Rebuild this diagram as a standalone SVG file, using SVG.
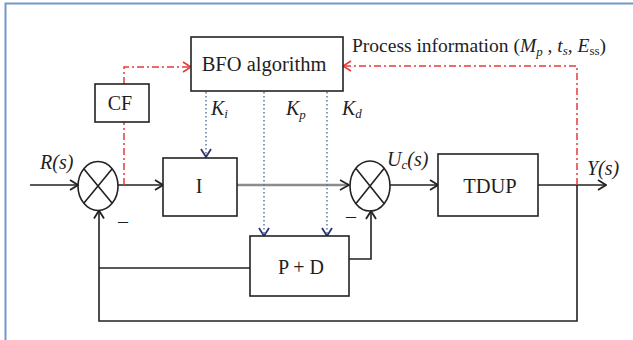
<svg xmlns="http://www.w3.org/2000/svg" width="633" height="340" viewBox="0 0 633 340">
<defs>
<style>
.frame{stroke:#7399cc;stroke-width:2;fill:none}
.box{fill:#fff;stroke:#222;stroke-width:1.6}
.ln{fill:none;stroke:#222;stroke-width:1.6}
.gray{fill:none;stroke:#8c8c8c;stroke-width:2.6}
.red{fill:none;stroke:#e8383a;stroke-width:1.5;stroke-dasharray:7 3 2 3}
.dot{fill:none;stroke:#5a6a9e;stroke-width:1.4;stroke-dasharray:1.5 2.5}
.t{font-family:"Liberation Serif","Times New Roman",serif;font-size:20px;fill:#1e1e1e}
.it{font-style:italic}
.sub{font-size:13px}
</style>
<marker id="ab" viewBox="0 0 10 12" refX="9" refY="6" markerWidth="10" markerHeight="12" markerUnits="userSpaceOnUse" orient="auto">
<path d="M1,1 L9,6 L1,11" fill="none" stroke="#222" stroke-width="1.8"/>
</marker>
<marker id="ar" viewBox="0 0 10 12" refX="9" refY="6" markerWidth="10" markerHeight="12" markerUnits="userSpaceOnUse" orient="auto">
<path d="M1,1 L9,6 L1,11" fill="none" stroke="#e8383a" stroke-width="1.6"/>
</marker>
<marker id="an" viewBox="0 0 10 12" refX="9" refY="6" markerWidth="10" markerHeight="12" markerUnits="userSpaceOnUse" orient="auto">
<path d="M1,1 L9,6 L1,11" fill="none" stroke="#2c3470" stroke-width="1.8"/>
</marker>
</defs>
<rect width="633" height="340" fill="#fff"/>
<g id="frame">
<path class="frame" d="M5.5,340 L5.5,3.5 L633,3.5"/>
</g>
<g id="connectors">
<path class="ln" d="M30,185 L78,185" marker-end="url(#ab)"/>
<path class="ln" d="M118,185 L163,185" marker-end="url(#ab)"/>
<path class="gray" d="M237,185 L349,185"/>
<path class="ln" d="M340,180 L349,185 L340,190"/>
<path class="ln" d="M390,185 L438,185" marker-end="url(#ab)"/>
<path class="ln" d="M538,185 L606,185" marker-end="url(#ab)"/>
<path class="ln" d="M577,185 L577,321 L99,321 L99,210.5" marker-end="url(#ab)"/>
<path class="ln" d="M250,268 L99,268"/>
<path class="ln" d="M349,259 L371,259 L371,211" marker-end="url(#ab)"/>
<path class="red" d="M124,185 L124,122"/>
<path class="red" d="M124,84 L124,67 L191,67" marker-end="url(#ar)"/>
<path class="red" d="M577,185 L577,66 L343,66" marker-end="url(#ar)"/>
<path class="dot" d="M206,92 L206,157" marker-end="url(#an)"/>
<path class="dot" d="M264,92 L264,236" marker-end="url(#an)"/>
<path class="dot" d="M327,92 L327,236" marker-end="url(#an)"/>
</g>
<g id="sum1">
<ellipse class="ln" cx="98" cy="186" rx="20" ry="24.5" fill="#fff"/>
<path class="ln" d="M84,169 L112,203 M112,169 L84,203"/>
</g>
<g id="sum2">
<ellipse class="ln" cx="370" cy="186" rx="20" ry="25" fill="#fff"/>
<path class="ln" d="M356,168.5 L384,203.5 M384,168.5 L356,203.5"/>
</g>
<g id="bfo">
<rect class="box" x="191" y="37" width="152" height="54"/>
<text class="t" x="264" y="71" text-anchor="middle" style="font-size:20.5px">BFO algorithm</text>
</g>
<g id="cf">
<rect class="box" x="95" y="84" width="54" height="38"/>
<text class="t" x="120" y="110" text-anchor="middle">CF</text>
</g>
<g id="i-block">
<rect class="box" x="163" y="158" width="74" height="58"/>
<text class="t" x="199" y="193" text-anchor="middle">I</text>
</g>
<g id="pd">
<rect class="box" x="250" y="236" width="99" height="60"/>
<text class="t" x="301" y="274" text-anchor="middle">P + D</text>
</g>
<g id="tdup">
<rect class="box" x="438" y="154" width="100" height="62"/>
<text class="t" x="490" y="193" text-anchor="middle" style="font-size:20.5px">TDUP</text>
</g>
<g id="labels">
<text class="t it" x="40" y="169">R(s)</text>
<text class="t" x="118" y="228">–</text>
<text class="t" x="346" y="223">–</text>
<text class="t it" x="211" y="115">K<tspan class="sub" dy="3">i</tspan></text>
<text class="t it" x="286" y="115">K<tspan class="sub" dy="4">p</tspan></text>
<text class="t it" x="342" y="115">K<tspan class="sub" dy="3">d</tspan></text>
<text class="t it" x="387" y="166">U<tspan class="sub" dy="3">c</tspan><tspan dy="-3">(s)</tspan></text>
<text class="t it" x="587" y="175">Y(s)</text>
<text class="t" x="352" y="52" style="font-size:19.5px">Process information (<tspan class="it">M</tspan><tspan class="it sub" dy="4">p</tspan><tspan dy="-4"> , </tspan><tspan class="it">t</tspan><tspan class="it sub" dy="3">s</tspan><tspan dy="-3">, </tspan><tspan class="it">E</tspan><tspan class="sub" dy="3">ss</tspan><tspan dy="-3">)</tspan></text>
</g>
</svg>
